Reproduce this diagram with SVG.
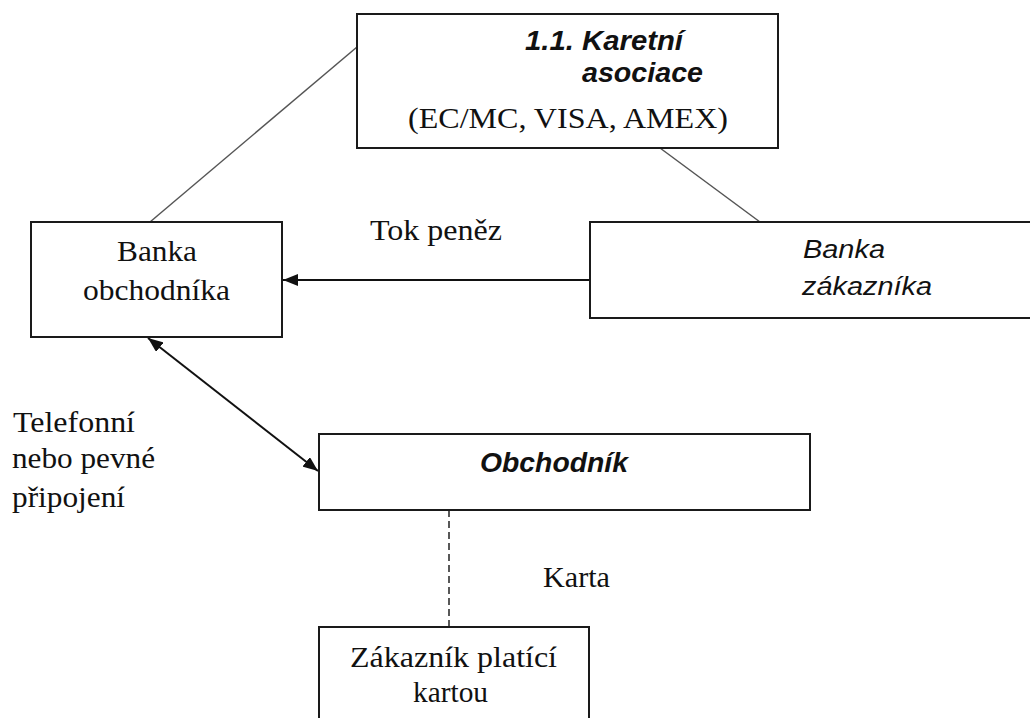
<svg xmlns="http://www.w3.org/2000/svg" width="1030" height="718" viewBox="0 0 1030 718">
<defs>
<style>
.box{fill:#fff;stroke:#1a1a1a;stroke-width:2}
.serif{font-family:"Liberation Serif","Times New Roman",serif;font-size:30px;fill:#111}
.sansbi{font-family:"Liberation Sans",Arial,sans-serif;font-size:28px;font-weight:bold;font-style:italic;fill:#111}
.sansi{font-family:"Liberation Sans",Arial,sans-serif;font-size:26px;font-style:italic;fill:#111}
.thin{stroke:#555;stroke-width:1.5;fill:none}
.arr{stroke:#111;stroke-width:2;fill:none}
</style>
<marker id="ah" viewBox="0 0 15 12" refX="15" refY="6" markerWidth="15" markerHeight="12" markerUnits="userSpaceOnUse" orient="auto-start-reverse">
<path d="M0,0 L15,6 L0,12 Z" fill="#111"/>
</marker>
</defs>
<rect width="1030" height="718" fill="#fff"/>
<g id="connectors">
<line class="thin" x1="357" y1="47" x2="150" y2="222"/>
<line class="thin" x1="660" y1="148" x2="760" y2="222"/>
<line class="arr" x1="590" y1="280" x2="283" y2="280" marker-end="url(#ah)"/>
<line class="arr" x1="148" y1="338" x2="318" y2="471" marker-start="url(#ah)" marker-end="url(#ah)"/>
<line x1="449" y1="510" x2="449" y2="627" stroke="#222" stroke-width="1.5" stroke-dasharray="7,4"/>
</g>
<g id="node-asociace">
<rect class="box" x="357" y="14" width="421" height="134"/>
<text class="sansbi" x="525" y="50" textLength="158" lengthAdjust="spacingAndGlyphs">1.1. Karetní</text>
<text class="sansbi" x="582" y="82" textLength="121" lengthAdjust="spacingAndGlyphs">asociace</text>
<text class="serif" x="408" y="128" textLength="320" lengthAdjust="spacingAndGlyphs">(EC/MC, VISA, AMEX)</text>
</g>
<g id="node-banka-obchodnika">
<rect class="box" x="31" y="222" width="251" height="115"/>
<text class="serif" x="117" y="261" textLength="80" lengthAdjust="spacingAndGlyphs">Banka</text>
<text class="serif" x="83" y="300" textLength="147" lengthAdjust="spacingAndGlyphs">obchodníka</text>
</g>
<g id="node-banka-zakaznika">
<rect class="box" x="590" y="222" width="460" height="96"/>
<text class="sansi" x="803" y="258" textLength="82" lengthAdjust="spacingAndGlyphs">Banka</text>
<text class="sansi" x="802" y="295" textLength="130" lengthAdjust="spacingAndGlyphs">zákazníka</text>
</g>
<g id="label-tok">
<text class="serif" x="370" y="240" textLength="132" lengthAdjust="spacingAndGlyphs">Tok peněz</text>
</g>
<g id="label-telefon">
<text class="serif" x="13" y="432" textLength="122" lengthAdjust="spacingAndGlyphs">Telefonní</text>
<text class="serif" x="12" y="468" textLength="143" lengthAdjust="spacingAndGlyphs">nebo pevné</text>
<text class="serif" x="12" y="507" textLength="113" lengthAdjust="spacingAndGlyphs">připojení</text>
</g>
<g id="node-obchodnik">
<rect class="box" x="319" y="434" width="491" height="76"/>
<text class="sansbi" x="480" y="472" textLength="148" lengthAdjust="spacingAndGlyphs">Obchodník</text>
</g>
<g id="label-karta">
<text class="serif" x="543" y="587" textLength="67" lengthAdjust="spacingAndGlyphs">Karta</text>
</g>
<g id="node-zakaznik">
<rect class="box" x="319" y="627" width="270" height="110"/>
<text class="serif" x="350" y="667" textLength="207" lengthAdjust="spacingAndGlyphs">Zákazník platící</text>
<text class="serif" x="413" y="702" textLength="75" lengthAdjust="spacingAndGlyphs">kartou</text>
</g>
</svg>
